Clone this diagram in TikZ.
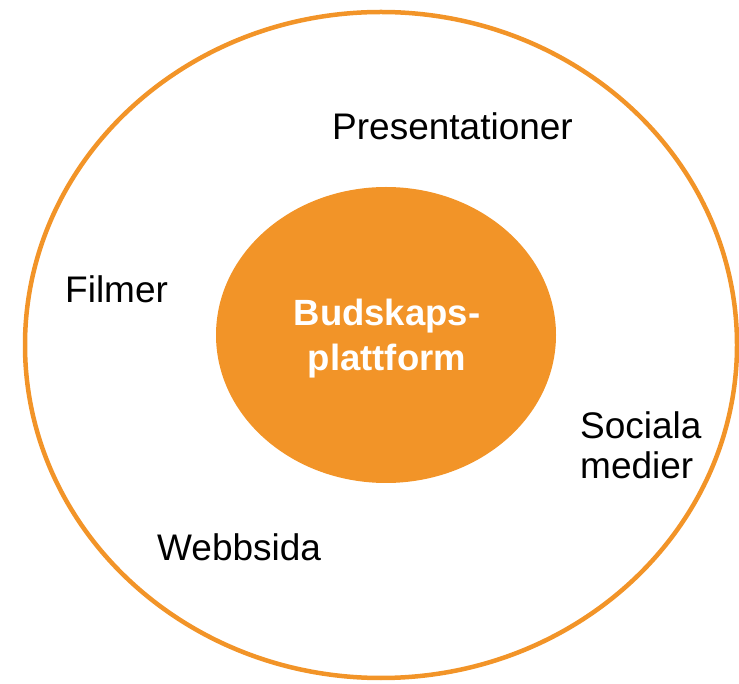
\documentclass[tikz,border=0pt]{standalone}
\usepackage{fontspec}
\setmainfont{Liberation Sans}
\definecolor{budorange}{RGB}{242,148,40}
\tikzset{
  kanal/.style={anchor=base west, inner sep=0pt, align=left, font=\fontsize{37}{40}\selectfont},
  kärna/.style={anchor=base, inner sep=0pt, align=center, text=white, font=\fontsize{36.5}{45}\selectfont\bfseries}
}
\begin{document}
\begin{tikzpicture}[x=1pt, y=1pt]
  \useasboundingbox (0,0) rectangle (739,683);
  % yttre ring och kärna
  \draw[budorange, line width=4.5pt] (381,338) ellipse [x radius=356, y radius=333];
  \fill[budorange] (386,348) ellipse [x radius=170, y radius=148];
  \node[kärna] (plattform) at (387,312) {Budskaps-\\plattform};
  % kanaler
  \node[kanal] (presentationer) at (332,543) {Presentationer};
  \node[kanal] (filmer) at (65,380) {Filmer};
  \node[kanal] (sociala) at (580,204) {Sociala\\medier};
  \node[kanal] (webbsida) at (157,122) {Webbsida};
\end{tikzpicture}
\end{document}
